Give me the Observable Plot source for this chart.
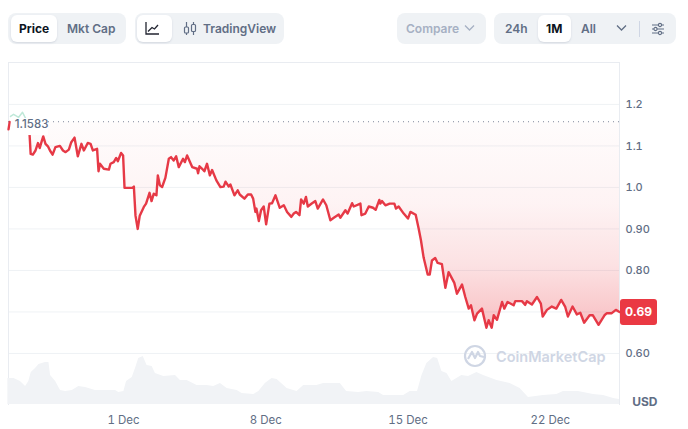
<!DOCTYPE html>
<html><head><meta charset="utf-8">
<script src="https://cdn.jsdelivr.net/npm/d3@7"></script>
<script src="https://cdn.jsdelivr.net/npm/@observablehq/plot@0.6"></script>
<style>
html,body{margin:0;padding:0;background:#fff;font-family:Inter,sans-serif;}
#page{position:relative;width:688px;height:429px;overflow:hidden;}
#bar{position:relative;height:50px;width:688px;}
.g{position:absolute;top:13px;height:31px;background:#eff2f5;border-radius:8px;}
.p{position:absolute;top:15px;height:27px;background:#fff;border-radius:6px;box-shadow:0 1px 2px rgba(88,102,126,.18);}
.t{position:absolute;top:13px;line-height:31px;font-size:12px;font-weight:600;color:#616e85;white-space:nowrap;}
.t.k{color:#0d1421;font-weight:700;}
.t.c{color:#a6b0c3;}
.i{position:absolute;}
#chart{position:absolute;left:0;top:50px;}
#tag{position:absolute;left:620px;top:299px;width:37px;height:26px;line-height:26px;background:#ea3943;border-radius:3px;color:#fff;font-size:12px;font-weight:700;text-align:center;}
#mark{position:absolute;left:463px;top:344px;}
</style></head>
<body><div id="page">
<div id="bar">
 <div class="g" style="left:8px;width:118px"></div><div class="p" style="left:11px;width:46px"></div>
 <div class="t k" style="left:19px">Price</div><div class="t" style="left:67px">Mkt Cap</div>
 <div class="g" style="left:135px;width:149px"></div><div class="p" style="left:137px;width:35px"></div>
 <svg class="i" style="left:144px;top:21px" width="16" height="15" fill="none" stroke="#222531" stroke-width="1.3"><path d="M2 1v12h13"/><path d="M4 10.5l4-4 2.5 1.5L14 4"/></svg>
 <svg class="i" style="left:183px;top:21px" width="14" height="15" fill="none" stroke="#616e85" stroke-width="1.2"><path d="M3.5 1v13M10.5 1v13"/><rect x="1.5" y="6" width="4" height="6" rx="1" fill="#eff2f5"/><rect x="8.5" y="3.5" width="4" height="7" rx="1" fill="#eff2f5"/></svg>
 <div class="t" style="left:203px">TradingView</div>
 <div class="g" style="left:397px;width:89px"></div>
 <div class="t c" style="left:406px">Compare</div>
 <svg class="i" style="left:464px;top:24px" width="11" height="8" fill="none" stroke="#a6b0c3" stroke-width="1.3"><path d="M1 1.5l4.5 4.5 4.5-4.5"/></svg>
 <div class="g" style="left:494px;width:182px"></div><div class="p" style="left:538px;width:33px"></div>
 <div class="t" style="left:505px">24h</div><div class="t k" style="left:546px">1M</div><div class="t" style="left:581px">All</div>
 <svg class="i" style="left:616px;top:24px" width="11" height="8" fill="none" stroke="#616e85" stroke-width="1.3"><path d="M1 1.5l4.5 4.5 4.5-4.5"/></svg>
 <div class="i" style="left:639px;top:21px;width:1px;height:16px;background:#cfd6e4"></div>
 <svg class="i" style="left:651px;top:22px" width="14" height="14" fill="none" stroke="#616e85" stroke-width="1.1"><path d="M1 3h12M1 7h12M1 11h12"/><circle cx="9" cy="3" r="1.6" fill="#eff2f5"/><circle cx="4.500" cy="7" r="1.600" fill="#eff2f5"/><circle cx="9" cy="11" r="1.600" fill="#eff2f5"/></svg>
</div>
<div id="chart"></div>
<svg id="mark" width="26" height="24" fill="none" stroke="#cfd6e4" stroke-width="2.200"><circle cx="12" cy="12" r="10"/><path d="M5 15l4-7 3 6 3-6 2 4 4 1" stroke-linejoin="round"/></svg>
<div id="tag"></div>
</div>
<script>
const baseTime = Date.UTC(2024, 11, 1);
const toDate = d => new Date(baseTime + d * 864e5);

const referencePrice = 1.1583;
const lastPriceLabel = "0.69";
const yTicks = [1.2, 1.1, 1.0, 0.9, 0.8, 0.6];
const yTickLabels = ["1.2", "1.1", "1.0", "0.90", "0.80", "0.60"];
const gridValues = [1.2, 1.1, 1.0, 0.9, 0.8, 0.7, 0.6];
const xTickDays = [0, 7, 14, 21];
const xTickLabels = ["1 Dec", "8 Dec", "15 Dec", "22 Dec"];

// Start of the period, above the reference price
const headDays = [-5.56, -5.41, -5.16, -4.97, -4.72];
const headPrices = [1.171, 1.176, 1.169, 1.181, 1.157];

const priceDays = [-5.66,-5.60,-4.72,-4.62,-4.57,-4.46,-4.33,-4.21,-4.12,-4.02,-3.95,-3.84,-3.72,-3.62,-3.49,-3.35,-3.13,-2.98,-2.85,-2.69,-2.57,-2.41,-2.25,-2.07,-1.95,-1.76,-1.62,-1.51,-1.30,-1.23,-1.16,-0.97,-0.72,-0.64,-0.48,-0.36,-0.28,-0.12,-0.02,0.05,0.43,0.51,0.59,0.70,0.80,1.0,1.11,1.28,1.38,1.49,1.62,1.69,1.79,1.90,2.06,2.23,2.34,2.47,2.59,2.72,2.93,3.02,3.13,3.38,3.62,3.67,3.74,3.87,3.98,4.11,4.25,4.36,4.57,4.77,4.93,5.02,5.18,5.26,5.46,5.62,5.72,5.95,6.12,6.28,6.38,6.49,6.54,6.66,6.77,6.90,7.02,7.18,7.31,7.48,7.69,7.89,8.05,8.26,8.38,8.49,8.66,8.74,8.87,8.98,9.07,9.28,9.44,9.56,9.82,9.98,10.18,10.35,10.59,10.67,10.92,11.03,11.25,11.33,11.66,11.71,11.90,12.07,12.28,12.41,12.59,12.64,12.72,12.89,13.10,13.33,13.41,13.54,13.79,14.00,14.12,14.38,14.53,14.64,14.77,14.97,15.07,15.18,15.34,15.46,15.67,15.84,16.00,16.28,16.41,16.66,16.82,16.99,17.10,17.27,17.40,17.64,17.86,17.97,18.12,18.22,18.38,18.63,18.74,18.90,19.20,19.28,19.61,19.77,19.85,20.10,20.35,20.54,20.63,20.84,21.08,21.30,21.54,21.74,21.87,22.10,22.31,22.48,22.67,22.94,23.10,23.38,23.67,23.79,24.03,24.23,24.41];
const prices = [1.14,1.158,1.157,1.125,1.081,1.079,1.089,1.107,1.095,1.112,1.123,1.105,1.099,1.089,1.079,1.097,1.100,1.089,1.085,1.091,1.109,1.120,1.075,1.105,1.089,1.107,1.105,1.089,1.093,1.039,1.057,1.045,1.043,1.057,1.061,1.071,1.063,1.083,1.077,0.999,0.999,1.002,0.932,0.900,0.932,0.953,0.961,0.987,0.967,0.985,0.981,1.029,1.005,1.001,1.023,1.069,1.073,1.065,1.075,1.049,1.069,1.061,1.077,1.049,1.045,1.034,1.051,1.045,1.039,1.057,1.029,1.042,1.017,1.001,1.002,1.014,1.002,1.007,0.981,0.993,0.983,0.973,0.983,0.983,0.973,0.941,0.949,0.919,0.945,0.954,0.911,0.961,0.962,0.981,0.951,0.957,0.941,0.929,0.937,0.941,0.933,0.971,0.961,0.977,0.954,0.962,0.967,0.949,0.971,0.957,0.921,0.927,0.935,0.927,0.945,0.937,0.962,0.954,0.961,0.933,0.937,0.954,0.951,0.946,0.970,0.961,0.967,0.957,0.961,0.961,0.949,0.954,0.937,0.925,0.941,0.934,0.900,0.872,0.831,0.790,0.790,0.824,0.830,0.818,0.815,0.758,0.796,0.770,0.744,0.766,0.736,0.708,0.716,0.680,0.696,0.708,0.662,0.680,0.662,0.692,0.681,0.724,0.708,0.724,0.716,0.726,0.726,0.717,0.726,0.718,0.736,0.720,0.689,0.705,0.713,0.708,0.729,0.712,0.689,0.713,0.694,0.698,0.674,0.692,0.692,0.669,0.692,0.697,0.697,0.705,0.700];

const volumeDays = [-5.69,-5.39,-5.07,-4.82,-4.66,-4.54,-4.33,-4.16,-3.84,-3.67,-3.59,-3.34,-3.10,-2.85,-2.52,-2.20,-1.87,-1.38,-0.39,-0.23,0.02,0.15,0.43,0.59,0.75,0.97,1.16,1.41,1.57,1.98,2.56,2.80,3.13,3.62,4.11,4.44,4.77,5.10,5.59,5.84,6.41,6.66,6.98,7.31,7.56,7.89,8.05,8.54,8.87,9.52,9.85,10.67,10.98,11.57,11.98,12.56,12.80,13.79,14.11,14.47,14.69,14.93,15.26,15.46,15.67,15.92,16.16,16.65,16.98,17.39,17.72,18.38,19.03,19.52,19.93,20.67,21.33,21.65,22.39,23.13,23.63,24.12,24.41];
const volumes = [26,26,23,18,23,32,36,40,42,42,29,23,14,13,14,18,17,14,14,12,13,23,27,36,46,48,39,38,31,28,29,24,24,19,19,18,21,16,14,11,10,13,21,26,25,19,16,13,19,19,21,21,13,12,13,12,9,9,13,13,29,41,47,46,33,31,23,29,28,32,29,24,21,16,7,9,10,13,13,10,9,6,5];

const yBottom = 0.477, yTop = 1.301;
// Volume shares the panel floor: one volume unit in price-axis terms
const volumeUnit = 1 / 415;
const priceRows = priceDays.map((d, i) => ({t: toDate(d), v: prices[i]}));
const headRows = headDays.map((d, i) => ({t: toDate(d), v: headPrices[i]}));
const volumeRows = volumeDays.map((d, i) => ({t: toDate(d), v: yBottom + volumes[i] * volumeUnit}));

const gradient = () => {
  const s = d3.create("svg:defs");
  const g = s.append("linearGradient").attr("id", "pf").attr("x1", 0).attr("y1", 0).attr("x2", 0).attr("y2", 1);
  [[0, 0.015], [0.4, 0.06], [0.7, 0.15], [1, 0.32]].forEach(([o, a]) =>
    g.append("stop").attr("offset", o).attr("stop-color", "#ea3943").attr("stop-opacity", a));
  return s.node();
};

const textColor = "#616e85", gridColor = "#eff2f5", red = "#e63946";
const plot = Plot.plot({
  width: 688, height: 379,
  marginTop: 12, marginBottom: 25, marginLeft: 8, marginRight: 69,
  style: {fontFamily: "Inter, sans-serif", background: "transparent", overflow: "visible"},
  x: {type: "time", domain: [toDate(-5.66), toDate(24.41)]},
  y: {domain: [yBottom, yTop]},
  marks: [
    gradient,
    Plot.ruleY(gridValues, {stroke: gridColor, strokeWidth: 1}),
    Plot.frame({stroke: "#e9ecf1", anchor: "left"}),
    Plot.frame({stroke: "#e9ecf1", anchor: "right"}),
    Plot.frame({stroke: "#e9ecf1", anchor: "top"}),
    Plot.areaY(volumeRows, {x: "t", y1: yBottom, y2: "v", fill: "#f1f3f6"}),
    Plot.areaY(priceRows.slice(2), {x: "t", y1: referencePrice, y2: "v", fill: "url(#pf)"}),
    Plot.ruleY([referencePrice], {stroke: "#808a9d", strokeWidth: 1, strokeDasharray: "1,4"}),
    Plot.line(headRows, {x: "t", y: "v", stroke: "#bfe8d8", strokeWidth: 1.5}),
    Plot.line(priceRows.slice(0, 2), {x: "t", y: "v", stroke: red, strokeWidth: 2.4}),
    Plot.line(priceRows.slice(2), {x: "t", y: "v", stroke: red, strokeWidth: 2.4}),
    Plot.rect([0], {x1: toDate(-5.52), x2: toDate(-3.70), y1: 1.125, y2: 1.166, fill: "#fff"}),
    Plot.text(["1.1583"], {x: toDate(-5.35), y: referencePrice - 0.006, textAnchor: "start", fill: textColor, fontSize: 11.5, fontWeight: 500}),
    Plot.axisY({anchor: "right", ticks: yTicks, tickSize: 0, tickPadding: 6, tickFormat: d => yTickLabels[yTicks.indexOf(d)], label: null, fill: textColor, fontSize: 11, fontWeight: 500, dy: 0.5}),
    Plot.axisX({ticks: xTickDays.map(toDate), tickSize: 0, tickPadding: 11, tickFormat: d => xTickLabels[xTickDays.indexOf((d - baseTime) / 864e5)], label: null, fill: textColor, fontSize: 11.5}),
    Plot.text(["USD"], {frameAnchor: "bottom-right", dx: 38, dy: 1, textAnchor: "end", fill: textColor, fontSize: 12, fontWeight: 700}),
    Plot.text(["CoinMarketCap"], {x: toDate(18.33), y: 0.591, textAnchor: "start", fill: "#cfd6e4", fontSize: 14.5, fontWeight: 600})
  ]
});
document.getElementById("chart").appendChild(plot);
document.getElementById("tag").textContent = lastPriceLabel;
</script>
</body></html>
